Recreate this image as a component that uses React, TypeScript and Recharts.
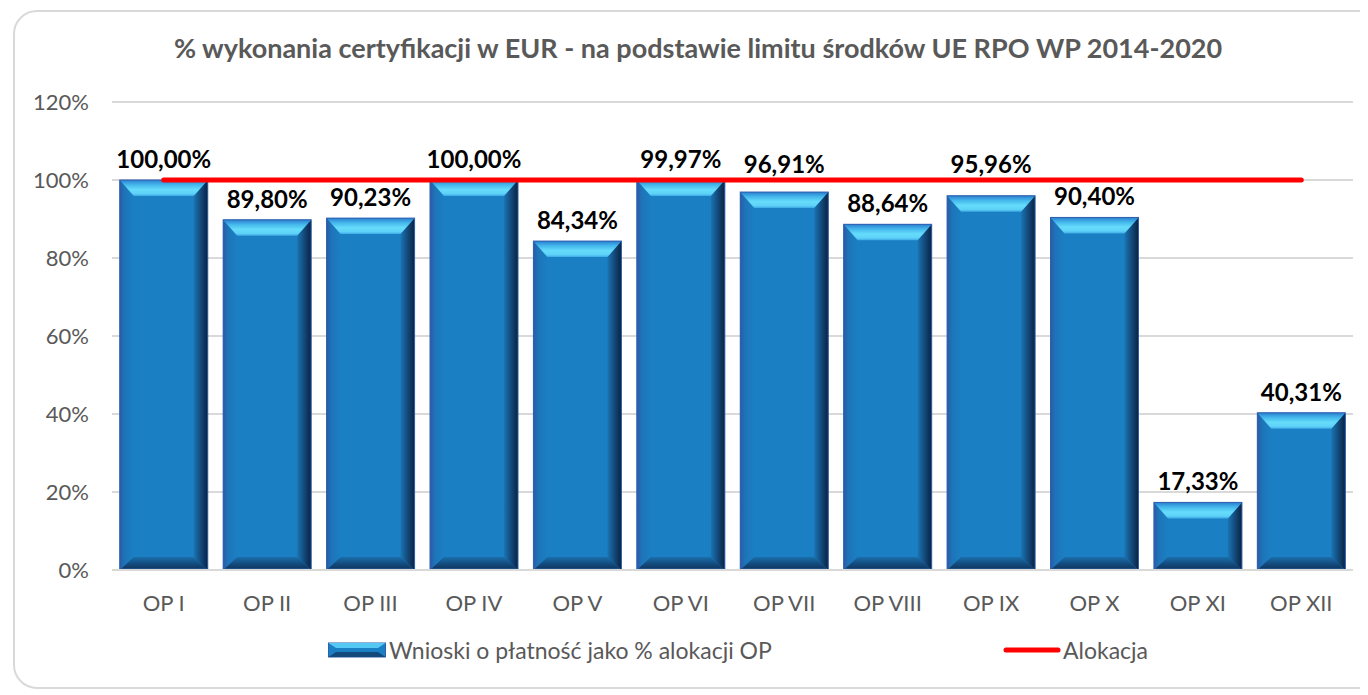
import { ComposedChart, Bar, Line, XAxis, YAxis, CartesianGrid, LabelList, Legend } from "recharts";

const categories = ["OP I", "OP II", "OP III", "OP IV", "OP V", "OP VI", "OP VII", "OP VIII", "OP IX", "OP X", "OP XI", "OP XII"];
const wnioski = [100.0, 89.8, 90.23, 100.0, 84.34, 99.97, 96.91, 88.64, 95.96, 90.4, 17.33, 40.31];
const alokacja = [100, 100, 100, 100, 100, 100, 100, 100, 100, 100, 100, 100];
const yTicks = [0, 20, 40, 60, 80, 100, 120];

const chartData = categories.map((name, i) => ({ name, wnioski: wnioski[i], alokacja: alokacja[i] }));

const FONT = "Lato, 'Open Sans', sans-serif";
const GRAY = "#595959";

const BevelBar = (props: any) => {
  const { x, y, width, height } = props;
  if (!height || height <= 0) return null;
  const bt = Math.min(16, height / 2);
  const bb = Math.min(13, height / 2);
  const bs = Math.min(14, width / 2);
  const x2 = x + width;
  const y2 = y + height;
  return (
    <g>
      <rect x={x} y={y} width={width} height={height} fill="#1b7fc3" />
      <polygon points={`${x},${y} ${x + bs},${y + bt} ${x + bs},${y2 - bb} ${x},${y2}`} fill="url(#bevLeft)" />
      <polygon points={`${x2},${y} ${x2 - bs},${y + bt} ${x2 - bs},${y2 - bb} ${x2},${y2}`} fill="url(#bevRight)" />
      <polygon points={`${x},${y2} ${x + bs},${y2 - bb} ${x2 - bs},${y2 - bb} ${x2},${y2}`} fill="url(#bevBottom)" />
      <polygon points={`${x},${y} ${x2},${y} ${x2 - bs},${y + bt} ${x + bs},${y + bt}`} fill="url(#bevTop)" />
      <rect x={x} y={y} width={width} height={height} fill="none" stroke="#2f5fae" strokeWidth={1} />
    </g>
  );
};

const fmt = (v: any) => `${Number(v).toFixed(2).replace(".", ",")}%`;

// value label above the bar; lifted above the Alokacja line when it would cross it
const ValueLabel = (props: any) => {
  const { x, y, width, height, value } = props;
  const v = Number(value);
  const k = v > 0 ? height / v : 0;
  const lineY = y + height - 100 * k;
  let base = y - 12;
  if (base - 18 < lineY + 3 && base > lineY - 4) base = lineY - 7;
  return (
    <text
      x={x + width / 2}
      y={base}
      textAnchor="middle"
      fill="#000"
      fontWeight={700}
      fontSize={24}
      fontFamily={FONT}
    >
      {fmt(value)}
    </text>
  );
};

const LegendContent = () => (
  <div style={{ position: "relative", height: 70, fontFamily: FONT, fontSize: 23, color: GRAY }}>
    <div style={{ position: "absolute", left: 320, top: 11, display: "flex", alignItems: "center" }}>
      <svg width={58} height={16} style={{ marginRight: 3 }}>
        <rect x={0.5} y={1} width={57} height={14} fill="#1b7fc3" stroke="#2f5fae" />
        <polygon points="0.5,1 57.5,1 50,6 8,6" fill="#55c8f4" />
        <polygon points="0.5,15 8,10 50,10 57.5,15" fill="#134a7c" />
      </svg>
      <span>Wnioski o płatność jako % alokacji OP</span>
    </div>
    <div style={{ position: "absolute", left: 995, top: 11, display: "flex", alignItems: "center" }}>
      <svg width={58} height={16} style={{ marginRight: 2 }}>
        <line x1={3} y1={8} x2={55} y2={8} stroke="#ff0000" strokeWidth={5} strokeLinecap="round" />
      </svg>
      <span>Alokacja</span>
    </div>
  </div>
);

export default function App() {
  return (
    <div style={{ position: "relative", width: 1360, height: 687, overflow: "hidden", background: "#fff" }}>
      <div
        style={{
          position: "absolute",
          left: 5,
          top: 2,
          width: 1370,
          height: 679,
          border: "2px solid #d9d9d9",
          borderRadius: 24,
          boxSizing: "border-box",
        }}
      />
      <div
        style={{
          position: "absolute",
          left: 0,
          top: 25,
          width: 1380,
          textAlign: "center",
          fontFamily: FONT,
          fontWeight: 700,
          fontSize: 27,
          lineHeight: "30px",
          color: GRAY,
        }}
      >
        % wykonania certyfikacji w EUR - na podstawie limitu środków UE RPO WP 2014-2020
      </div>
      <div style={{ position: "absolute", left: 0, top: 0 }}>
        <ComposedChart
          width={1352}
          height={687}
          data={chartData}
          margin={{ top: 94, right: 7, left: 0, bottom: 0 }}
          barCategoryGap="7.5%"
        >
          <defs>
            <linearGradient id="bevTop" x1="0" y1="0" x2="0" y2="1">
              <stop offset="0%" stopColor="#2a7fcf" />
              <stop offset="30%" stopColor="#45b8ec" />
              <stop offset="60%" stopColor="#66dcfb" />
              <stop offset="85%" stopColor="#5ed2f8" />
              <stop offset="100%" stopColor="#3ca9e4" />
            </linearGradient>
            <linearGradient id="bevRight" x1="0" y1="0" x2="1" y2="0">
              <stop offset="0%" stopColor="#1a74b3" />
              <stop offset="55%" stopColor="#124676" />
              <stop offset="100%" stopColor="#0a2240" />
            </linearGradient>
            <linearGradient id="bevLeft" x1="0" y1="0" x2="1" y2="0">
              <stop offset="0%" stopColor="#2b5aa8" />
              <stop offset="35%" stopColor="#1e74b8" />
              <stop offset="100%" stopColor="#1b7fc3" />
            </linearGradient>
            <linearGradient id="bevBottom" x1="0" y1="0" x2="0" y2="1">
              <stop offset="0%" stopColor="#1a6fac" />
              <stop offset="55%" stopColor="#134a7c" />
              <stop offset="85%" stopColor="#0f3a66" />
              <stop offset="100%" stopColor="#4f8edb" />
            </linearGradient>
          </defs>
          <CartesianGrid vertical={false} stroke="#d9d9d9" strokeWidth={2} />
          <XAxis
            dataKey="name"
            axisLine={{ stroke: "#d9d9d9", strokeWidth: 2 }}
            tickLine={false}
            tickMargin={19}
            height={55}
            interval={0}
            tick={{ fill: GRAY, fontSize: 22, fontFamily: FONT }}
          />
          <YAxis
            domain={[0, 120]}
            ticks={yTicks}
            tickFormatter={(v) => `${v}%`}
            axisLine={false}
            tickLine={false}
            tickMargin={17}
            width={104}
            tick={{ fill: GRAY, fontSize: 22, fontFamily: FONT }}
          />
          <Bar dataKey="wnioski" shape={BevelBar} isAnimationActive={false}>
            <LabelList dataKey="wnioski" content={ValueLabel} />
          </Bar>
          <Line
            dataKey="alokacja"
            stroke="#ff0000"
            strokeWidth={5}
            strokeLinecap="round"
            dot={false}
            activeDot={false}
            type="linear"
            isAnimationActive={false}
          />
          <Legend verticalAlign="bottom" content={LegendContent} wrapperStyle={{ height: 70 }} />
        </ComposedChart>
      </div>
    </div>
  );
}
